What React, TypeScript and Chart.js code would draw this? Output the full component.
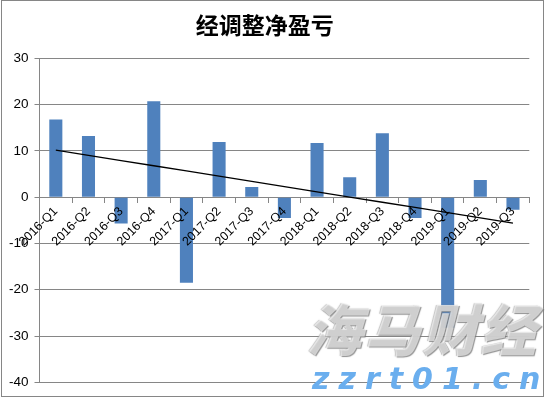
import React, { useEffect, useRef } from "react";
import { Chart, registerables } from "chart.js";

Chart.register(...registerables);

const titleText = "经调整净盈亏";
const categories = [
  "2016-Q1", "2016-Q2", "2016-Q3", "2016-Q4",
  "2017-Q1", "2017-Q2", "2017-Q3", "2017-Q4",
  "2018-Q1", "2018-Q2", "2018-Q3", "2018-Q4",
  "2019-Q1", "2019-Q2", "2019-Q3",
];
const netValues = [16.8, 13.2, -5.7, 20.7, -18.5, 11.9, 2.2, -4.5, 11.7, 4.3, 13.8, -4.5, -28.2, 3.7, -2.7];
const yMin = -40;
const yMax = 30;
const yStep = 10;
const watermarkCn = "海马财经";
const watermarkUrl = "zzrt01.cn";

// Linear (least squares) trendline, as Excel computes it from the series
function linearTrend(values: number[]): number[] {
  const n = values.length;
  const xs = values.map((_, i) => i + 1);
  const mx = xs.reduce((a, b) => a + b, 0) / n;
  const my = values.reduce((a, b) => a + b, 0) / n;
  let num = 0;
  let den = 0;
  for (let i = 0; i < n; i++) {
    num += (xs[i] - mx) * (values[i] - my);
    den += (xs[i] - mx) * (xs[i] - mx);
  }
  const slope = num / den;
  return xs.map((x) => my + slope * (x - mx));
}

const frameColor = "#868686";

const framePlugin = {
  id: "frame",
  beforeDraw(chart: any) {
    const { ctx, width, height } = chart;
    ctx.save();
    ctx.fillStyle = "#ffffff";
    ctx.fillRect(0, 0, width, height);
    ctx.restore();
  },
  afterDraw(chart: any) {
    const { ctx } = chart;
    ctx.save();
    ctx.strokeStyle = frameColor;
    ctx.lineWidth = 1;
    ctx.strokeRect(1.5, 0.5, 542, 396);
    ctx.restore();
  },
};

export default function App() {
  const canvasRef = useRef<HTMLCanvasElement | null>(null);

  useEffect(() => {
    document.body.style.margin = "0";
    const canvas = canvasRef.current;
    if (!canvas) return;
    const chart = new Chart(canvas, {
      type: "bar",
      data: {
        labels: categories,
        datasets: [
          {
            type: "line" as const,
            label: "趋势",
            data: linearTrend(netValues),
            borderColor: "#000000",
            borderWidth: 1.3,
            pointRadius: 0,
            fill: false,
            tension: 0,
            order: 0,
          },
          {
            type: "bar" as const,
            label: titleText,
            data: netValues,
            backgroundColor: "#4F81BD",
            borderWidth: 0,
            categoryPercentage: 1,
            barPercentage: 0.4,
            order: 1,
          },
        ],
      },
      options: {
        responsive: false,
        animation: false,
        devicePixelRatio: 1,
        layout: { padding: { top: 0, left: 0, right: 15.7, bottom: 15.7 } },
        plugins: {
          legend: { display: false },
          tooltip: { enabled: false },
          title: {
            display: true,
            text: titleText,
            color: "#000000",
            font: { family: "'Noto Sans CJK SC', sans-serif", size: 23, weight: "bold", lineHeight: 1.2 },
            padding: { top: 11, bottom: 19.7 },
          },
        },
        scales: {
          x: {
            position: { y: 0 } as any,
            offset: true,
            grid: {
              display: true,
              drawOnChartArea: false,
              drawTicks: true,
              tickLength: 5,
              offset: true,
              color: frameColor,
            },
            border: { display: true, color: frameColor, width: 1 },
            ticks: {
              z: 1,
              autoSkip: false,
              minRotation: 45,
              maxRotation: 45,
              padding: 2,
              color: "#000000",
              font: { family: "'Liberation Sans', Arial, sans-serif", size: 12.5 },
            },
            afterFit(scale: any) {
              scale.height = 0;
            },
          },
          y: {
            min: yMin,
            max: yMax,
            ticks: {
              stepSize: yStep,
              padding: 6,
              color: "#000000",
              font: { family: "'Liberation Sans', Arial, sans-serif", size: 13.5 },
            },
            grid: {
              color: frameColor,
              lineWidth: 1,
              drawTicks: true,
              tickLength: 5,
            },
            border: { display: true, color: frameColor, width: 1 },
            afterFit(scale: any) {
              scale.width = 39.5;
            },
          },
        },
      },
      plugins: [framePlugin],
    });
    return () => chart.destroy();
  }, []);

  return (
    <div style={{ position: "relative", width: 545, height: 398, overflow: "hidden" }}>
      <canvas ref={canvasRef} width={545} height={398} style={{ display: "block" }} />
      <div
        style={{
          position: "absolute",
          left: 306,
          top: 292,
          fontFamily: "'Noto Sans CJK SC', sans-serif",
          fontSize: 56,
          fontWeight: 900,
          fontStyle: "italic",
          color: "rgba(255,255,255,0.6)",
          textShadow: "1px 1px 1px rgba(120,120,120,0.8), -1px 0 1px rgba(170,170,170,0.7)",
          letterSpacing: 2,
          lineHeight: "70px",
          whiteSpace: "nowrap",
          pointerEvents: "none",
        }}
      >
        {watermarkCn}
      </div>
      <div
        style={{
          position: "absolute",
          left: 312,
          top: 362,
          fontFamily: "'DejaVu Sans', sans-serif",
          fontSize: 30,
          fontWeight: "bold",
          fontStyle: "italic",
          color: "#6AAEEE",
          letterSpacing: 9,
          lineHeight: "34px",
          whiteSpace: "nowrap",
          pointerEvents: "none",
        }}
      >
        {watermarkUrl}
      </div>
    </div>
  );
}
